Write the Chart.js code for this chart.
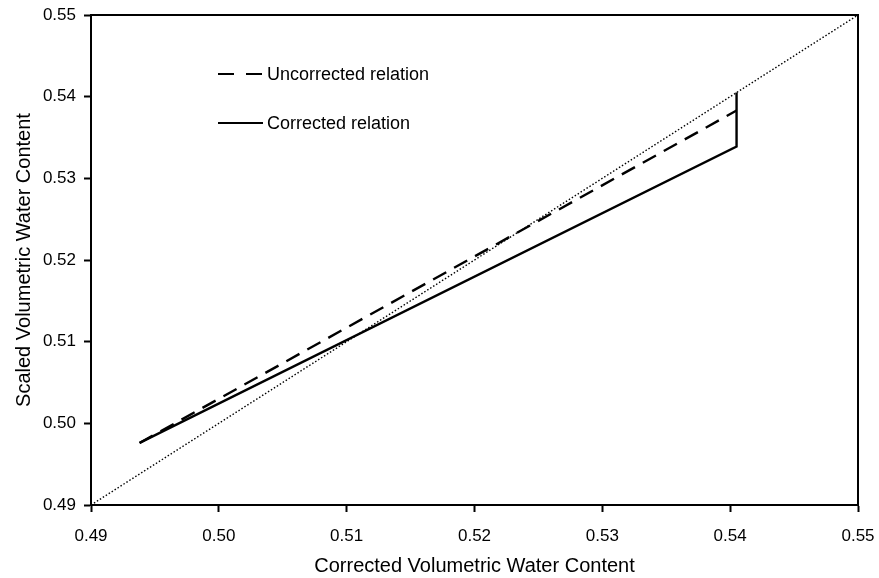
<!DOCTYPE html>
<html>
<head>
<meta charset="utf-8">
<script src="https://cdn.jsdelivr.net/npm/chart.js@4.4.1/dist/chart.umd.min.js"></script>
<style>
  html, body { margin: 0; padding: 0; background: #fff; }
  #wrap { width: 879px; height: 578px; }
</style>
</head>
<body>
<div id="wrap"><canvas id="chart"></canvas></div>
<script>
// Values
const uncorrectedX = [0.4938, 0.5405];
const uncorrectedY = [0.4976, 0.5383];
const correctedX = [0.4938, 0.5405, 0.5405];
const correctedY = [0.4976, 0.5339, 0.5405];
const oneToOneX = [0.49, 0.55];
const oneToOneY = [0.49, 0.55];
const tickValues = [0.49, 0.50, 0.51, 0.52, 0.53, 0.54, 0.55];

const FONT = '"Liberation Sans", Arial, sans-serif';

function toPoints(xs, ys) {
    return xs.map((x, i) => ({ x: x, y: ys[i] }));
}

// Draws the box round the plot area and the legend inside it
const framePlugin = {
    id: 'frame',
    afterDraw(chart) {
        const ctx = chart.ctx;
        const a = chart.chartArea;
        ctx.save();
        ctx.strokeStyle = '#000';
        ctx.lineWidth = 2;
        ctx.strokeRect(a.left, a.top, a.right - a.left, a.bottom - a.top);

        // legend
        const items = [
            { label: 'Uncorrected relation', dash: [16, 12], y: 74 },
            { label: 'Corrected relation', dash: [], y: 123 }
        ];
        ctx.font = '18px ' + FONT;
        ctx.fillStyle = '#000';
        ctx.textBaseline = 'middle';
        items.forEach(item => {
            ctx.beginPath();
            ctx.setLineDash(item.dash);
            ctx.lineWidth = 2.2;
            ctx.moveTo(218, item.y);
            ctx.lineTo(263, item.y);
            ctx.stroke();
            ctx.setLineDash([]);
            ctx.fillText(item.label, 267, item.y + 1);
        });
        ctx.restore();
    }
};

new Chart(document.getElementById('chart'), {
    type: 'scatter',
    data: {
        datasets: [
            {
                label: '1:1',
                data: toPoints(oneToOneX, oneToOneY),
                showLine: true,
                borderColor: '#000',
                borderWidth: 1.4,
                borderDash: [1.5, 2],
                pointRadius: 0
            },
            {
                label: 'Uncorrected relation',
                data: toPoints(uncorrectedX, uncorrectedY),
                showLine: true,
                borderColor: '#000',
                borderWidth: 2.4,
                borderDash: [15, 9],
                pointRadius: 0
            },
            {
                label: 'Corrected relation',
                data: toPoints(correctedX, correctedY),
                showLine: true,
                borderColor: '#000',
                borderWidth: 2.4,
                pointRadius: 0
            }
        ]
    },
    options: {
        responsive: true,
        maintainAspectRatio: false,
        animation: false,
        layout: { padding: { top: 15, right: 21, left: 0, bottom: 0 } },
        plugins: {
            legend: { display: false },
            tooltip: { enabled: false }
        },
        scales: {
            x: {
                type: 'linear',
                min: 0.49,
                max: 0.55,
                afterBuildTicks: scale => { scale.ticks = tickValues.map(v => ({ value: v })); },
                afterFit: scale => {
                    scale.height = 73;
                    scale.paddingLeft = 0;
                    scale.paddingRight = 0;
                },
                ticks: {
                    color: '#000',
                    font: { family: FONT, size: 17 },
                    padding: 14,
                    callback: v => v.toFixed(2)
                },
                grid: { drawOnChartArea: false, color: '#000', tickLength: 7, tickWidth: 2 },
                border: { color: '#000', width: 2 },
                title: {
                    display: true,
                    text: 'Corrected Volumetric Water Content',
                    color: '#000',
                    font: { family: FONT, size: 20 },
                    padding: { top: 0, bottom: 0 }
                }
            },
            y: {
                type: 'linear',
                min: 0.49,
                max: 0.55,
                afterBuildTicks: scale => { scale.ticks = tickValues.map(v => ({ value: v })); },
                afterFit: scale => {
                    scale.width = 91;
                    scale.paddingTop = 0;
                    scale.paddingBottom = 0;
                },
                ticks: {
                    color: '#000',
                    font: { family: FONT, size: 17 },
                    padding: 8,
                    callback: v => v.toFixed(2)
                },
                grid: { drawOnChartArea: false, color: '#000', tickLength: 7, tickWidth: 2 },
                border: { color: '#000', width: 2 },
                title: {
                    display: true,
                    text: 'Scaled Volumetric Water Content',
                    color: '#000',
                    font: { family: FONT, size: 20 },
                    padding: { top: 12, bottom: 0 }
                }
            }
        }
    },
    plugins: [framePlugin]
});
</script>
</body>
</html>
